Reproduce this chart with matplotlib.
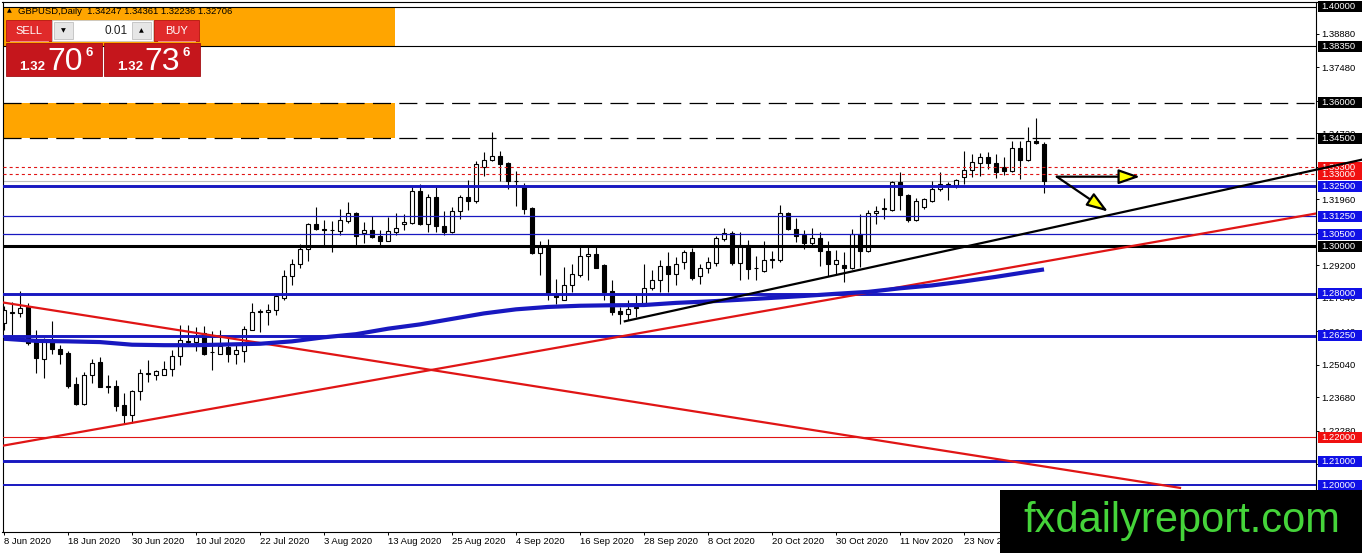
import numpy as np
import matplotlib
matplotlib.use('Agg')
import matplotlib.pyplot as plt
import matplotlib.transforms as mtransforms
from matplotlib.patches import Rectangle

plt.rcParams['font.family'] = ['Liberation Sans', 'DejaVu Sans']
plt.rcParams['lines.scale_dashes'] = False

# GBPUSD daily candles, 8 Jun 2020 .. 7 Dec 2020
opens = [1.2678, 1.2718, 1.2720, 1.2745, 1.2606, 1.2528, 1.2606, 1.2568, 1.2553, 1.2422,
         1.2338, 1.2462, 1.2514, 1.2412, 1.2414, 1.2333, 1.2291, 1.2394, 1.2466, 1.2462,
         1.2462, 1.2487, 1.2539, 1.2603, 1.2599, 1.2634, 1.2555, 1.2550, 1.2578, 1.2547,
         1.2561, 1.2650, 1.2722, 1.2724, 1.2734, 1.2784, 1.2876, 1.2926, 1.2988, 1.3090,
         1.3072, 1.3068, 1.3062, 1.3104, 1.3137, 1.3054, 1.3065, 1.3040, 1.3023, 1.3058,
         1.3090, 1.3095, 1.3232, 1.3093, 1.3207, 1.3084, 1.3058, 1.3148, 1.3207, 1.3190,
         1.3329, 1.3360, 1.3378, 1.3346, 1.3274, 1.3249, 1.3158, 1.2970, 1.2998, 1.2798,
         1.2776, 1.2838, 1.2877, 1.2959, 1.2968, 1.2919, 1.2811, 1.2727, 1.2717, 1.2740,
         1.2760, 1.2824, 1.2859, 1.2915, 1.2884, 1.2932, 1.2974, 1.2873, 1.2909, 1.2928,
         1.3030, 1.3054, 1.2928, 1.3006, 1.2909, 1.2894, 1.2941, 1.2943, 1.3137, 1.3072,
         1.3044, 1.3012, 1.3034, 1.2981, 1.2923, 1.2919, 1.2909, 1.3051, 1.2978, 1.3137,
         1.3153, 1.3151, 1.3267, 1.3215, 1.3110, 1.3162, 1.3187, 1.3239, 1.3255, 1.3257,
         1.3287, 1.3318, 1.3349, 1.3371, 1.3346, 1.3329, 1.3313, 1.3410, 1.3360, 1.3440,
         1.34247]
highs = [1.2750, 1.2766, 1.2810, 1.2760, 1.2650, 1.2617, 1.2685, 1.2585, 1.2561, 1.2452,
         1.2473, 1.2528, 1.2536, 1.2462, 1.2439, 1.2386, 1.2398, 1.2487, 1.2525, 1.2483,
         1.2518, 1.2564, 1.2668, 1.2668, 1.2661, 1.2664, 1.2644, 1.2647, 1.2613, 1.2585,
         1.2664, 1.2761, 1.2738, 1.2756, 1.2800, 1.2898, 1.2947, 1.3009, 1.3095, 1.3165,
         1.3107, 1.3104, 1.3155, 1.3183, 1.3141, 1.3100, 1.3127, 1.3065, 1.3120, 1.3137,
         1.3135, 1.3249, 1.3260, 1.3218, 1.3246, 1.3148, 1.3165, 1.3215, 1.3277, 1.3354,
         1.3392, 1.3475, 1.3399, 1.3350, 1.3315, 1.3262, 1.3162, 1.3020, 1.3030, 1.2863,
         1.2912, 1.2923, 1.2998, 1.2998, 1.2998, 1.2923, 1.2859, 1.2745, 1.2772, 1.2793,
         1.2926, 1.2898, 1.2940, 1.2974, 1.2953, 1.2984, 1.2993, 1.2923, 1.2953, 1.3040,
         1.3076, 1.3062, 1.3058, 1.3026, 1.2960, 1.3020, 1.2978, 1.3173, 1.3141, 1.3118,
         1.3068, 1.3076, 1.3058, 1.3020, 1.2984, 1.2974, 1.3072, 1.3135, 1.3151, 1.3169,
         1.3201, 1.3271, 1.3308, 1.3218, 1.3201, 1.3201, 1.3271, 1.3308, 1.3267, 1.3281,
         1.3396, 1.3385, 1.3388, 1.3392, 1.3385, 1.3371, 1.3438, 1.3438, 1.3496, 1.3535,
         1.34361]
lows = [1.2650, 1.2626, 1.2703, 1.2585, 1.2469, 1.2448, 1.2550, 1.2508, 1.2404, 1.2334,
        1.2334, 1.2425, 1.2408, 1.2386, 1.2310, 1.2254, 1.2258, 1.2355, 1.2432, 1.2438,
        1.2459, 1.2455, 1.2501, 1.2592, 1.2561, 1.2543, 1.2480, 1.2547, 1.2515, 1.2508,
        1.2515, 1.2647, 1.2640, 1.2671, 1.2710, 1.2772, 1.2835, 1.2909, 1.2937, 1.3068,
        1.2998, 1.2974, 1.3048, 1.3095, 1.2998, 1.3012, 1.3035, 1.3002, 1.3020, 1.3044,
        1.3065, 1.3093, 1.3086, 1.3058, 1.3058, 1.3048, 1.3054, 1.3112, 1.3151, 1.3179,
        1.3294, 1.3354, 1.3274, 1.3239, 1.3169, 1.3132, 1.2968, 1.2877, 1.2772, 1.2759,
        1.2772, 1.2807, 1.2870, 1.2856, 1.2907, 1.2772, 1.2710, 1.2672, 1.2689, 1.2703,
        1.2748, 1.2814, 1.2807, 1.2807, 1.2835, 1.2905, 1.2859, 1.2839, 1.2887, 1.2915,
        1.3023, 1.2919, 1.2859, 1.2863, 1.2859, 1.2891, 1.2909, 1.2933, 1.3065, 1.3016,
        1.2988, 1.3006, 1.2915, 1.2873, 1.2884, 1.2849, 1.2905, 1.2912, 1.2973, 1.3093,
        1.3114, 1.3148, 1.3151, 1.3100, 1.3104, 1.3155, 1.3183, 1.3232, 1.3193, 1.3243,
        1.3260, 1.3290, 1.3294, 1.3322, 1.3285, 1.3299, 1.3308, 1.3281, 1.3354, 1.3425,
        1.32236]
closes = [1.2734, 1.2722, 1.2742, 1.2594, 1.2533, 1.2606, 1.2567, 1.2550, 1.2416, 1.2338,
          1.2462, 1.2511, 1.2411, 1.2415, 1.2330, 1.2291, 1.2394, 1.2469, 1.2470, 1.2476,
          1.2487, 1.2539, 1.2606, 1.2599, 1.2619, 1.2547, 1.2558, 1.2580, 1.2547, 1.2564,
          1.2654, 1.2724, 1.2726, 1.2734, 1.2789, 1.2876, 1.2926, 1.2988, 1.3090, 1.3072,
          1.3069, 1.3066, 1.3107, 1.3137, 1.3043, 1.3065, 1.3037, 1.3023, 1.3061, 1.3076,
          1.3100, 1.3232, 1.3090, 1.3207, 1.3084, 1.3058, 1.3148, 1.3207, 1.3190, 1.3343,
          1.3360, 1.3378, 1.3343, 1.3271, 1.3270, 1.3155, 1.2970, 1.2995, 1.2800, 1.2786,
          1.2838, 1.2881, 1.2960, 1.2968, 1.2909, 1.2807, 1.2724, 1.2717, 1.2736, 1.2744,
          1.2823, 1.2856, 1.2915, 1.2884, 1.2926, 1.2974, 1.2866, 1.2909, 1.2932, 1.3034,
          1.3054, 1.2928, 1.3006, 1.2903, 1.2906, 1.2940, 1.2944, 1.3137, 1.3072, 1.3040,
          1.3012, 1.3034, 1.2978, 1.2923, 1.2940, 1.2909, 1.3051, 1.2978, 1.3137, 1.3148,
          1.3157, 1.3267, 1.3215, 1.3110, 1.3187, 1.3197, 1.3239, 1.3260, 1.3258, 1.3277,
          1.3318, 1.3350, 1.3371, 1.3346, 1.3308, 1.3315, 1.3410, 1.3360, 1.3440, 1.3431,
          1.32706]

# moving average (thick blue line), sampled every 4 bars
ma_bars = [0, 4, 8, 12, 16, 20, 24, 28, 32, 36, 40, 44, 48, 52, 56, 60, 64,
           68, 72, 76, 80, 84, 88, 92, 96, 100, 104, 108, 112, 116, 120, 124, 128, 130]
ma_vals = [1.2612, 1.2603, 1.2601, 1.2598, 1.2587, 1.2585, 1.2585, 1.2588, 1.2591,
           1.2601, 1.2618, 1.2631, 1.2654, 1.2672, 1.2695, 1.2718, 1.2735, 1.2745,
           1.2750, 1.2752, 1.2753, 1.2762, 1.2768, 1.2775, 1.2783, 1.2791, 1.2800,
           1.2808, 1.2823, 1.2835, 1.2852, 1.2871, 1.2892, 1.2902]

date_ticks = [0, 8, 16, 24, 32, 40, 48, 56, 64, 72, 80, 88, 96, 104, 112, 120]
date_labels = ['8 Jun 2020', '18 Jun 2020', '30 Jun 2020', '10 Jul 2020', '22 Jul 2020',
               '3 Aug 2020', '13 Aug 2020', '25 Aug 2020', '4 Sep 2020', '16 Sep 2020',
               '28 Sep 2020', '8 Oct 2020', '20 Oct 2020', '30 Oct 2020', '11 Nov 2020',
               '23 Nov 2020']
price_ticks = [1.38880, 1.37480, 1.36080, 1.34720, 1.33320, 1.31960, 1.30560, 1.29200,
               1.27840, 1.26440, 1.25040, 1.23680, 1.22280, 1.20880]

# horizontal levels and their kind
levels = [1.40000, 1.38350, 1.36000, 1.34500, 1.33300, 1.33000, 1.32500, 1.31250,
          1.30500, 1.30000, 1.28000, 1.26250, 1.22000, 1.21000, 1.20000]
level_kind = ['black', 'black', 'dash', 'dash', 'reddot', 'reddot', 'bluewide', 'bluethin',
              'bluethin', 'blackwide', 'bluewide', 'bluewide', 'red', 'bluewide', 'bluemid']

# supply zones (orange), trendlines, arrows
zones = [(1.38350, 1.40000), (1.34500, 1.36000)]
zone_end = 48.9
black_tl = ([77.6, 144.5], [1.2685, 1.3176])
red_up_tl = ([4.5, 164.0], [1.2192, 1.3136])
red_dn_tl = ([0.0, 147.0], [1.2763, 1.1988])
arrow_tail = (131.6, 1.3290)
arrow_tips = [(142.0, 1.3290), (138.0, 1.3144)]

BLUE = '#1818c0'
BOXBLUE = '#1010e6'
RED = '#e01515'

W, H = 1362, 553
fig = plt.figure(figsize=(W / 100, H / 100), dpi=100)
ax = fig.add_axes([2.5 / W, 21 / H, 1314 / W, 530 / H])
ax.set_xlim(-0.1875, 164.06)
ax.set_ylim(1.180335, 1.402092)
for s in ax.spines.values():
    s.set_linewidth(0.8)

# zones
x0 = -2
for lo, hi in zones:
    ax.add_patch(Rectangle((x0, lo), zone_end - x0, hi - lo, facecolor='#ffa500',
                           edgecolor='none', zorder=0.5))

# bid line
ax.axhline(closes[-1], color='#c0c0c0', lw=0.8, zorder=1.5)

# candles
idx = np.arange(len(opens))
o, h, l, c = map(np.array, (opens, highs, lows, closes))
up = c >= o
ax.vlines(idx, l, h, color='black', lw=0.8, zorder=2)
ax.bar(idx, np.abs(c - o), width=0.55, bottom=np.minimum(o, c),
       color=np.where(up, 'white', 'black'), edgecolor='black', linewidth=0.8, zorder=2.1)

# horizontal levels
styles = {
    'black': dict(color='black', lw=0.8),
    'dash': dict(color='black', lw=0.9, dashes=(13, 6)),
    'reddot': dict(color=RED, lw=0.8, dashes=(2.2, 2.2)),
    'bluewide': dict(color=BLUE, lw=2.1),
    'bluethin': dict(color=BLUE, lw=0.9),
    'bluemid': dict(color=BLUE, lw=1.4),
    'blackwide': dict(color='black', lw=2.2),
    'red': dict(color=RED, lw=0.8),
}
box_colors = {'black': 'black', 'dash': 'black', 'blackwide': 'black',
              'reddot': '#f01010', 'red': '#f01010',
              'bluewide': BOXBLUE, 'bluethin': BOXBLUE, 'bluemid': BOXBLUE}
for lv, kind in zip(levels, level_kind):
    ax.axhline(lv, zorder=3, **styles[kind])

# trendlines
def ray(pts, x_from, x_to):
    (xa, xb), (ya, yb) = pts
    k = (yb - ya) / (xb - xa)
    return [x_from, x_to], [ya + k * (x_from - xa), ya + k * (x_to - xa)]

xs, ys = ray(red_up_tl, -1, 165)
ax.plot(xs, ys, color=RED, lw=1.6, zorder=3.2)
xs, ys = ray(red_dn_tl, -1, red_dn_tl[0][1])
ax.plot(xs, ys, color=RED, lw=1.6, zorder=3.2)
xs, ys = ray(black_tl, black_tl[0][0], 169.8)
ax.plot(xs, ys, color='black', lw=1.6, zorder=7, clip_on=False)

# moving average
ax.plot(ma_bars, ma_vals, color=BLUE, lw=3.0, zorder=3.3, solid_capstyle='butt')

# arrows
for tip in arrow_tips:
    ax.annotate('', xy=tip, xytext=arrow_tail,
                arrowprops=dict(arrowstyle='-|>,head_length=1.3,head_width=0.45',
                                fc='#ffff00', ec='black', lw=1.6, shrinkA=0, shrinkB=0),
                zorder=4)

# axes ticks
ax.yaxis.tick_right()
ax.set_yticks(price_ticks)
ax.set_yticklabels([f'{v:.5f}' for v in price_ticks])
ax.tick_params(axis='y', length=2.2, width=0.7, pad=1.3, labelsize=6.8, colors='black')
ax.set_xticks(date_ticks)
ax.set_xticklabels(date_labels, ha='left')
ax.tick_params(axis='x', length=2.5, width=0.7, pad=1.2, labelsize=6.8)

# level labels on the price scale
blend = mtransforms.blended_transform_factory(ax.transAxes, ax.transData)
bx0 = (1318 - 2.5) / 1314
bw = 46 / 1314
bh = 11 / 2390
for lv, kind in zip(levels, level_kind):
    ax.add_patch(Rectangle((bx0, lv - bh / 2), bw, bh, transform=blend,
                           facecolor=box_colors[kind], edgecolor='none',
                           clip_on=False, zorder=6))
    ax.text((1321.5 - 2.5) / 1314, lv, f'{lv:.5f}', transform=blend, ha='left',
            va='center', fontsize=6.8, color='white', zorder=6.5, clip_on=False)

# overlay in pixel coordinates: header, trade panel, watermark
ov = fig.add_axes([0, 0, 1, 1], zorder=10)
ov.set_xlim(0, W)
ov.set_ylim(H, 0)
ov.axis('off')

ov.text(9.5, 11, '▲', fontsize=4.5, ha='center', va='center', family=['DejaVu Sans'])
ov.text(18, 11, 'GBPUSD,Daily  1.34247 1.34361 1.32236 1.32706', fontsize=6.8,
        ha='left', va='center', color='black')

# sell / lot / buy row
ov.add_patch(Rectangle((6, 20), 46, 21, facecolor='#e02a2a', edgecolor='#b51515', lw=0.6))
ov.text(29, 31, 'SELL', color='white', fontsize=8, ha='center', va='center')
ov.add_patch(Rectangle((52, 20), 101, 21, facecolor='white', edgecolor='#c8c8c8', lw=0.6))
ov.add_patch(Rectangle((54, 22), 19, 17, facecolor='#e6e6e6', edgecolor='#c0c0c0', lw=0.6))
ov.add_patch(Rectangle((132, 22), 19, 17, facecolor='#e6e6e6', edgecolor='#c0c0c0', lw=0.6))
ov.text(63.5, 30.5, '▼', fontsize=4.5, ha='center', va='center', family=['DejaVu Sans'])
ov.text(141.5, 30.5, '▲', fontsize=4.5, ha='center', va='center', family=['DejaVu Sans'])
ov.text(128, 31, '0.01', fontsize=8.5, ha='right', va='center', color='#202020')
ov.add_patch(Rectangle((154, 20), 45, 21, facecolor='#e02a2a', edgecolor='#b51515', lw=0.6))
ov.text(176.5, 31, 'BUY', color='white', fontsize=8, ha='center', va='center')
ov.plot([10, 48], [41, 41], color='#f4a0a0', lw=0.6)
ov.plot([158, 195], [41, 41], color='#f4a0a0', lw=0.6)

# price boxes
for bxl, small_x, big_x, sup_x, big in [(6, 32.5, 65.5, 89, '70'), (104, 130.5, 162.5, 186, '73')]:
    ov.add_patch(Rectangle((bxl, 42.5), 96, 33.5, facecolor='#c5161c', edgecolor='#a30f14', lw=0.6))
    ov.text(small_x, 70, '1.32', color='white', fontsize=9.5, fontweight='bold',
            ha='center', va='baseline')
    ov.text(big_x, 70, big, color='white', fontsize=23, ha='center', va='baseline')
    ov.text(sup_x, 55.5, '6', color='white', fontsize=9.5, fontweight='bold',
            ha='center', va='baseline')

# watermark
ov.add_patch(Rectangle((1000, 490), 362, 63, facecolor='black', edgecolor='none'))
ov.text(1182, 521, 'fxdailyreport.com', color='#45d43a', fontsize=30,
        ha='center', va='center')

fig.savefig('out.png', dpi=100)
